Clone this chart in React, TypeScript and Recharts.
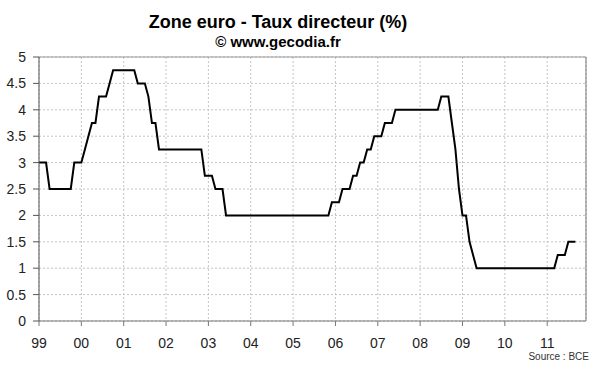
import React from "react";
import {
  LineChart,
  Line,
  XAxis,
  YAxis,
  CartesianGrid,
  ReferenceLine,
} from "recharts";

// taux de fin de mois, janv. 1999 -> sept. 2011
const rates1999 = [3, 3, 3, 2.5, 2.5, 2.5, 2.5, 2.5, 2.5, 2.5, 3, 3];
const rates2000 = [3, 3.25, 3.5, 3.75, 3.75, 4.25, 4.25, 4.25, 4.5, 4.75, 4.75, 4.75];
const rates2001 = [4.75, 4.75, 4.75, 4.75, 4.5, 4.5, 4.5, 4.25, 3.75, 3.75, 3.25, 3.25];
const rates2002 = [3.25, 3.25, 3.25, 3.25, 3.25, 3.25, 3.25, 3.25, 3.25, 3.25, 3.25, 2.75];
const rates2003 = [2.75, 2.75, 2.5, 2.5, 2.5, 2, 2, 2, 2, 2, 2, 2];
const rates2004 = [2, 2, 2, 2, 2, 2, 2, 2, 2, 2, 2, 2];
const rates2005 = [2, 2, 2, 2, 2, 2, 2, 2, 2, 2, 2, 2.25];
const rates2006 = [2.25, 2.25, 2.5, 2.5, 2.5, 2.75, 2.75, 3, 3, 3.25, 3.25, 3.5];
const rates2007 = [3.5, 3.5, 3.75, 3.75, 3.75, 4, 4, 4, 4, 4, 4, 4];
const rates2008 = [4, 4, 4, 4, 4, 4, 4.25, 4.25, 4.25, 3.75, 3.25, 2.5];
const rates2009 = [2, 2, 1.5, 1.25, 1, 1, 1, 1, 1, 1, 1, 1];
const rates2010 = [1, 1, 1, 1, 1, 1, 1, 1, 1, 1, 1, 1];
const rates2011 = [1, 1, 1, 1.25, 1.25, 1.25, 1.5, 1.5, 1.5];

const yearLabels = ["99", "00", "01", "02", "03", "04", "05", "06", "07", "08", "09", "10", "11"];
const yTicks = [0, 0.5, 1, 1.5, 2, 2.5, 3, 3.5, 4, 4.5, 5];

const allRates = [
  ...rates1999, ...rates2000, ...rates2001, ...rates2002, ...rates2003,
  ...rates2004, ...rates2005, ...rates2006, ...rates2007, ...rates2008,
  ...rates2009, ...rates2010, ...rates2011,
];

// x = mois depuis janvier 1999
const data = allRates.map((rate, m) => ({ m, rate }));
const xTicks = yearLabels.map((_, i) => i * 12);

const FONT = "Arial, 'Liberation Sans', sans-serif";

export default function App() {
  return (
    <div style={{ position: "absolute", left: 0, top: 0, width: 600, height: 372, background: "#fff" }}>
      <LineChart
        width={600}
        height={372}
        data={data}
        margin={{ top: 57, right: 14, bottom: 21, left: 0 }}
      >
        <CartesianGrid stroke="#c4c4c4" strokeDasharray="2 2" />
        <XAxis
          dataKey="m"
          type="number"
          domain={[0, 155]}
          ticks={xTicks}
          tickFormatter={(v: number) => yearLabels[v / 12]}
          height={30}
          tickSize={5}
          tickMargin={12}
          stroke="#777"
          tick={{ fill: "#222", fontSize: 14, fontFamily: FONT }}
          interval={0}
        />
        <YAxis
          type="number"
          domain={[0, 5]}
          ticks={yTicks}
          width={39}
          tickSize={6}
          tickMargin={7}
          stroke="#555"
          tick={{ fill: "#222", fontSize: 14, fontFamily: FONT }}
          interval={0}
        />
        <ReferenceLine y={5} stroke="#999" />
        <ReferenceLine x={155} stroke="#777" />
        <Line
          type="linear"
          dataKey="rate"
          stroke="#000"
          strokeWidth={2}
          dot={false}
          isAnimationActive={false}
        />
      </LineChart>
      <svg
        width={600}
        height={372}
        style={{ position: "absolute", left: 0, top: 0, pointerEvents: "none" }}
      >
        <text x={278} y={27.5} textAnchor="middle" fontFamily={FONT} fontWeight="bold" fontSize={18} fill="#000">
          Zone euro - Taux directeur (%)
        </text>
        <text x={278} y={47} textAnchor="middle" fontFamily={FONT} fontWeight="bold" fontSize={15} fill="#000">
          © www.gecodia.fr
        </text>
        <text x={589} y={359.5} textAnchor="end" fontFamily={FONT} fontSize={10} fill="#333">
          Source : BCE
        </text>
      </svg>
    </div>
  );
}
